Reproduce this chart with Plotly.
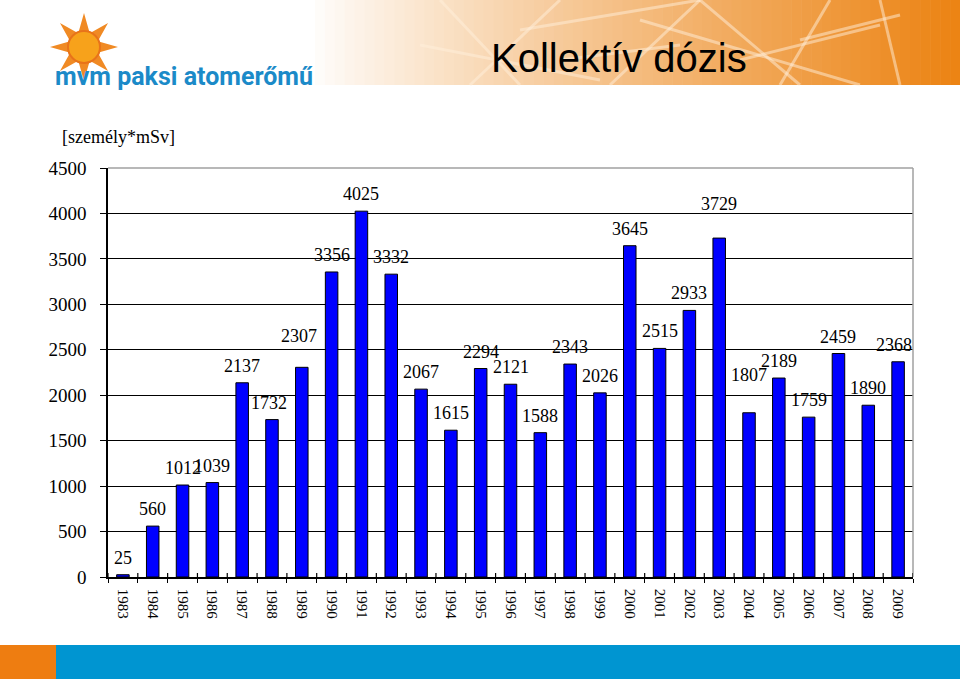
import math
import plotly.graph_objects as go

years = [str(y) for y in range(1983, 2010)]
doses = [25, 560, 1012, 1039, 2137, 1732, 2307, 3356, 4025, 3332, 2067, 1615, 2294,
         2121, 1588, 2343, 2026, 3645, 2515, 2933, 3729, 1807, 2189, 1759, 2459, 1890, 2368]
y_ticks = list(range(0, 4501, 500))

# label offsets (pixels) for labels that sit higher than the default
label_yshift = {"1989": 14, "2003": 17, "2004": 21}
label_xshift = {"1989": -3, "2009": -4, "1988": -3}

# plot-area pixel geometry
PL, PR, PT, PB = 108, 913, 168, 577
W, H = 960, 679


def px(x):
    return (x - PL) / (PR - PL)


def py(y):
    return (PB - y) / (PB - PT)


fig = go.Figure()
fig.add_trace(go.Bar(
    x=years, y=doses,
    marker=dict(color="#0000FF", line=dict(color="#000000", width=1)),
    width=0.42,
))

annotations = []
for i, (yr, v) in enumerate(zip(years, doses)):
    annotations.append(dict(
        x=i, y=v, xref="x", yref="y", text=str(v), showarrow=False,
        yanchor="bottom", yshift=5 + label_yshift.get(yr, 0), xshift=label_xshift.get(yr, 0),
        font=dict(family="Liberation Serif", size=18, color="#000000"),
    ))

# title, unit, logo text
annotations += [
    dict(x=px(619), y=py(58), xref="paper", yref="paper", text="Kollektív dózis",
         showarrow=False, xanchor="center", yanchor="middle",
         font=dict(family="Liberation Sans", size=40, color="#000000")),
    dict(x=px(60), y=py(137), xref="paper", yref="paper", text="[személy*mSv]",
         showarrow=False, xanchor="left", yanchor="middle",
         font=dict(family="Liberation Serif", size=18, color="#000000")),
    dict(x=px(53), y=py(77), xref="paper", yref="paper",
         text="<b>mvm paksi atomerőmű</b>",
         showarrow=False, xanchor="left", yanchor="middle",
         font=dict(family="Roboto", size=25, color="#1B8AC8")),
]

shapes = []
# header gradient
x0 = 305
n = 66
for i in range(n):
    xa = x0 + (W - x0) * i / n
    xb = x0 + (W - x0) * (i + 1) / n + 0.6
    t = (i / (n - 1)) ** 0.9
    r = int(255 + (236 - 255) * t)
    g = int(255 + (132 - 255) * t)
    b = int(255 + (20 - 255) * t)
    shapes.append(dict(type="rect", xref="paper", yref="paper",
                       x0=px(xa), x1=px(xb), y0=py(85), y1=py(0),
                       fillcolor=f"rgb({r},{g},{b})", line=dict(width=0), layer="below"))
# faint network lines in the header
net_lines = [(440, 0, 520, 85), (470, 85, 560, 0), (520, 30, 700, 0), (610, 85, 700, 0),
             (640, 20, 860, 85), (700, 0, 800, 85), (780, 85, 830, 0), (800, 40, 900, 15),
             (880, 0, 900, 85), (560, 60, 680, 45), (740, 60, 880, 25), (420, 45, 600, 80)]
for (a, b_, c, d) in net_lines:
    shapes.append(dict(type="line", xref="paper", yref="paper",
                       x0=px(a), y0=py(b_), x1=px(c), y1=py(d),
                       line=dict(color="rgba(255,240,220,0.5)", width=3), layer="below"))
# footer bars
shapes.append(dict(type="rect", xref="paper", yref="paper", x0=px(0), x1=px(56),
                   y0=py(H), y1=py(645), fillcolor="#EE7D11", line=dict(width=0)))
shapes.append(dict(type="rect", xref="paper", yref="paper", x0=px(56), x1=px(W),
                   y0=py(H), y1=py(645), fillcolor="#0095D1", line=dict(width=0)))
# sun logo
cx, cy = 84, 47
pts = []
for k in range(16):
    ang = math.pi / 2 + k * math.pi / 8
    rr = 34 if k % 2 == 0 else 15
    pts.append((cx + rr * math.cos(ang), cy - rr * math.sin(ang)))
path = "M " + " L ".join(f"{px(a):.5f},{py(b):.5f}" for a, b in pts) + " Z"
shapes.append(dict(type="path", xref="paper", yref="paper", path=path,
                   fillcolor="#F08A24", line=dict(width=0)))
shapes.append(dict(type="circle", xref="paper", yref="paper",
                   x0=px(cx - 16), x1=px(cx + 16), y0=py(cy + 16), y1=py(cy - 16),
                   fillcolor="#F7A21B", line=dict(color="#E8731A", width=2)))
# plot area grey borders (top and right)
shapes.append(dict(type="line", xref="paper", yref="paper", x0=0, x1=1, y0=1, y1=1,
                   line=dict(color="#A0A0A0", width=1.5)))
shapes.append(dict(type="line", xref="paper", yref="paper", x0=1, x1=1, y0=0, y1=1,
                   line=dict(color="#A0A0A0", width=1.5)))
# upward part of the crossing category ticks on the x axis
for i in range(len(years) + 1):
    shapes.append(dict(type="line", xref="x", yref="paper", x0=i - 0.5, x1=i - 0.5,
                       y0=0, y1=4 / (PB - PT), line=dict(color="#000000", width=1.2)))

fig.update_layout(
    width=W, height=H,
    margin=dict(l=PL, r=W - PR, t=PT, b=H - PB),
    paper_bgcolor="#FFFFFF", plot_bgcolor="#FFFFFF",
    showlegend=False,
    annotations=annotations,
    shapes=shapes,
    xaxis=dict(
        type="category", tickangle=90, showgrid=False,
        showline=True, linecolor="#000000", linewidth=1.5,
        ticks="outside", ticklen=4, tickcolor="#000000", tickson="boundaries",
        tickfont=dict(family="Liberation Serif", size=15, color="#000000"),
        ticklabelstandoff=7,
        range=[-0.5, len(years) - 0.5],
    ),
    yaxis=dict(
        range=[0, 4500], tickvals=y_ticks, ticktext=[str(v) for v in y_ticks],
        showgrid=True, gridcolor="#000000", gridwidth=1.3,
        showline=True, linecolor="#000000", linewidth=1.5,
        ticks="outside", ticklen=6, tickcolor="#000000",
        tickfont=dict(family="Liberation Serif", size=19, color="#000000"),
        ticklabelstandoff=10,
        zeroline=False,
    ),
)

fig.write_html("out.html")
